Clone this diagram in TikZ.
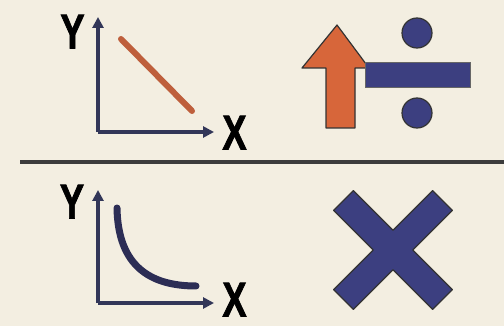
\documentclass[tikz,border=0pt]{standalone}
\usepackage{fontspec}
\setmainfont{Liberation Sans}
\newfontfamily\labfont[FakeBold=1.8]{Liberation Sans Bold}
\usetikzlibrary{arrows.meta}
\definecolor{bgc}{RGB}{243,238,225}
\definecolor{axisc}{RGB}{50,54,88}
\definecolor{linec}{RGB}{190,95,60}
\definecolor{orangec}{RGB}{215,102,58}
\definecolor{navyc}{RGB}{60,63,128}
\definecolor{curvec}{RGB}{44,45,85}
\definecolor{rulec}{RGB}{60,60,60}
\newcommand{\axtext}[1]{\scalebox{0.74}[1]{#1}}
\tikzset{
  axis/.style={draw=axisc, line width=3.2pt, -{Triangle[length=11pt,width=11pt]}},
  axlabel/.style={font=\labfont\fontsize{49}{49}\selectfont, text=black, inner sep=0pt, text height=35pt, text depth=0pt},
  iconline/.style={line cap=round, line width=6pt},
  outl/.style={draw=black!80, line width=1.2pt, line join=round}
}
\begin{document}
\begin{tikzpicture}[x=1pt,y=-1pt]
\fill[bgc] (0,0) rectangle (504,326);
\useasboundingbox (0,0) rectangle (504,326);
% divider
\draw[rulec, line width=4pt] (20,162.5) -- (504,162.5);
% top chart
\coordinate (o1) at (98,132);
\coordinate (y1) at (98,17);
\coordinate (x1) at (214,132);
\draw[axis] (o1) -- (y1);
\draw[axis] (o1) -- (x1);
\node[axlabel] (Y1) at (72.5,31) {\axtext{Y}};
\node[axlabel] (X1) at (234.5,132) {\axtext{X}};
\draw[iconline, linec] (121,39) -- (192,111);
% bottom chart
\coordinate (o2) at (98,303);
\coordinate (y2) at (98,190);
\coordinate (x2) at (214,303);
\draw[axis] (o2) -- (y2);
\draw[axis] (o2) -- (x2);
\node[axlabel] (Y2) at (72,201) {\axtext{Y}};
\node[axlabel] (X2) at (234.5,299) {\axtext{X}};
\draw[curvec, line width=7pt, line cap=round] (117,208) .. controls (118,266) and (150,286) .. (196,286);
% up arrow
\draw[outl, fill=orangec] (326,128) -- (326,68) -- (302,68) -- (337,25) -- (369,68) -- (355,68) -- (355,128) -- cycle;
% divide sign
\fill[navyc] (365,62) rectangle (470,87);
\draw[black!60, line width=0.8pt] (365,62) rectangle (470,87);
\draw[outl, fill=navyc] (417,33) circle (15);
\draw[outl, fill=navyc] (417,113) circle (15);
% X sign
\begin{scope}[shift={(393,250)}, rotate=45]
\draw[outl, fill=navyc] (14,70) -- (14,14) -- (70,14) -- (70,-14) -- (14,-14) -- (14,-70) -- (-14,-70) -- (-14,-14) -- (-70,-14) -- (-70,14) -- (-14,14) -- (-14,70) -- cycle;
\end{scope}
\end{tikzpicture}
\end{document}
